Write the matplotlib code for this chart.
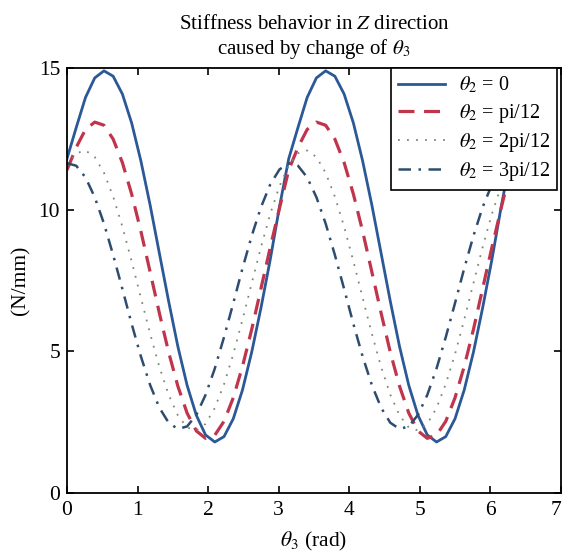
import matplotlib
matplotlib.use("Agg")
import matplotlib.pyplot as plt

# theta_3 sample positions (rad), 0 .. 2*pi
theta3 = [0.000, 0.131, 0.262, 0.393, 0.524, 0.654, 0.785, 0.916, 1.047, 1.178,
          1.309, 1.440, 1.571, 1.702, 1.833, 1.963, 2.094, 2.225, 2.356, 2.487,
          2.618, 2.749, 2.880, 3.011, 3.142, 3.273, 3.403, 3.534, 3.665, 3.796,
          3.927, 4.058, 4.189, 4.320, 4.451, 4.581, 4.712, 4.843, 4.974, 5.105,
          5.236, 5.367, 5.498, 5.629, 5.760, 5.890, 6.021, 6.152, 6.283]

stiff_0 = [11.80, 12.90, 13.96, 14.65, 14.90, 14.71, 14.08, 13.06, 11.72, 10.16,
           8.46, 6.77, 5.17, 3.80, 2.74, 2.05, 1.80, 1.99, 2.62, 3.64,
           4.98, 6.54, 8.24, 10.10, 11.80, 12.90, 13.96, 14.65, 14.90, 14.71,
           14.08, 13.06, 11.72, 10.16, 8.46, 6.77, 5.17, 3.80, 2.74, 2.05,
           1.80, 1.99, 2.62, 3.64, 4.98, 6.54, 8.24, 10.10, 11.80]

stiff_1 = [11.40, 12.20, 12.83, 13.09, 12.98, 12.49, 11.66, 10.55, 9.24, 7.80,
           6.35, 4.97, 3.77, 2.82, 2.19, 1.93, 2.04, 2.53, 3.36, 4.47,
           5.78, 7.22, 8.67, 10.05, 11.40, 12.20, 12.83, 13.09, 12.98, 12.49,
           11.66, 10.55, 9.24, 7.80, 6.35, 4.97, 3.77, 2.82, 2.19, 1.93,
           2.04, 2.53, 3.36, 4.47, 5.78, 7.22, 8.67, 10.05, 11.40]

stiff_2 = [11.56, 11.99, 12.09, 11.86, 11.30, 10.46, 9.40, 8.18, 6.89, 5.62,
           4.45, 3.47, 2.74, 2.31, 2.21, 2.44, 3.00, 3.84, 4.90, 6.12,
           7.41, 8.68, 9.85, 10.83, 11.56, 11.99, 12.09, 11.86, 11.30, 10.46,
           9.40, 8.18, 6.89, 5.62, 4.45, 3.47, 2.74, 2.31, 2.21, 2.44,
           3.00, 3.84, 4.90, 6.12, 7.41, 8.68, 9.85, 10.83, 11.56]

stiff_3 = [11.64, 11.55, 11.14, 10.44, 9.51, 8.40, 7.20, 5.97, 4.82, 3.81,
           3.01, 2.48, 2.26, 2.35, 2.76, 3.46, 4.39, 5.50, 6.70, 7.93,
           9.08, 10.09, 10.89, 11.42, 11.64, 11.55, 11.14, 10.44, 9.51, 8.40,
           7.20, 5.97, 4.82, 3.81, 3.01, 2.48, 2.26, 2.35, 2.76, 3.46,
           4.39, 5.50, 6.70, 7.93, 9.08, 10.09, 10.89, 11.42, 11.64]

labels = [r"$\theta_2$ = 0", r"$\theta_2$ = pi/12", r"$\theta_2$ = 2pi/12", r"$\theta_2$ = 3pi/12"]
xticks = [0, 1, 2, 3, 4, 5, 6, 7]
yticks = [0, 5, 10, 15]

plt.rcParams['font.family'] = ['Liberation Serif', 'DejaVu Serif']
plt.rcParams['mathtext.fontset'] = 'stix'

fig = plt.figure(figsize=(5.64, 5.53), dpi=100)
ax = fig.add_axes([67/564, 1 - 493/553, (561-67)/564, (493-68)/553])

ax.plot(theta3, stiff_0, color='#2b5896', lw=2.0, linestyle='-', label=labels[0])
ax.plot(theta3, stiff_1, color='#c0354c', lw=2.3, dashes=(5, 3), label=labels[1])
ax.plot(theta3, stiff_2, color='#7a8a70', lw=1.3, dashes=(1, 4), label=labels[2])
ax.plot(theta3, stiff_3, color='#2e4d6e', lw=1.8, dashes=(5, 3, 1, 3), label=labels[3])

ax.set_xlim(0, 7)
ax.set_ylim(0, 15)
ax.set_xticks(xticks)
ax.set_yticks(yticks)
ax.tick_params(direction='in', top=True, right=True, length=5, width=1.2,
               labelsize=15.5, pad=6)
ax.tick_params(axis='y', pad=5)
for s in ax.spines.values():
    s.set_linewidth(1.3)
xl = ax.get_xticklabels()
xl[-1].set_horizontalalignment('right')

ax.set_xlabel(r"$\theta_3$ (rad)", fontsize=15.5, labelpad=7)
ax.set_ylabel("(N/mm)", fontsize=15.5, labelpad=6)
ax.set_title("Stiffness behavior in $Z$ direction\ncaused by change of $\\theta_3$",
             fontsize=15, pad=10, linespacing=1.2)

leg = ax.legend(loc='upper right', bbox_to_anchor=(0.992, 1.0), fontsize=14.5,
                frameon=True, fancybox=False, framealpha=1, edgecolor='black',
                handlelength=2.3, borderaxespad=0, labelspacing=0.3,
                borderpad=0.35, handletextpad=0.7)
leg.get_frame().set_linewidth(1.2)

fig.savefig("out.png", dpi=100)
